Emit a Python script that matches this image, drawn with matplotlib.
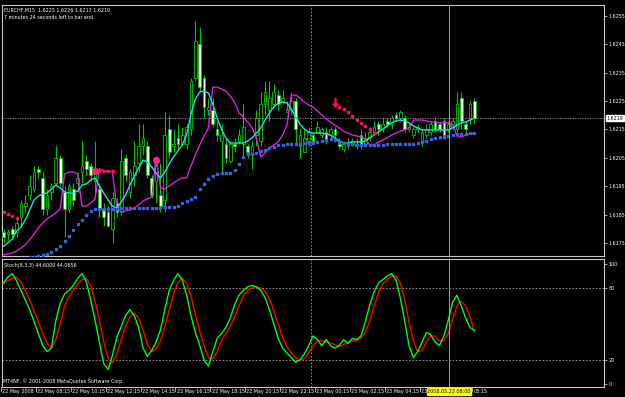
import os
import numpy as np
import matplotlib
matplotlib.use('Agg')
import matplotlib.pyplot as plt
from matplotlib.transforms import blended_transform_factory, Bbox
from matplotlib import font_manager
from matplotlib.font_manager import FontProperties

# ---------------- data ----------------
opens = [1.6179, 1.6178, 1.6180, 1.6179, 1.6184, 1.6188, 1.6192, 1.6194, 1.6201, 1.6198,
         1.6187, 1.6193, 1.6196, 1.6205, 1.6193, 1.6187, 1.6194, 1.6196, 1.6200, 1.6204,
         1.6202, 1.6197, 1.6194, 1.6187, 1.6186, 1.6180, 1.6189, 1.6186, 1.6205, 1.6193,
         1.6199, 1.6203, 1.6209, 1.6209, 1.6198, 1.6197, 1.6192, 1.6190, 1.6215, 1.6209,
         1.6212, 1.6210, 1.6210, 1.6215, 1.6233, 1.6245, 1.6233, 1.6222, 1.6222, 1.6215,
         1.6211, 1.6210, 1.6204, 1.6210, 1.6211, 1.6210, 1.6209, 1.6206, 1.6213, 1.6211,
         1.6224, 1.6222, 1.6224, 1.6227, 1.6225, 1.6221, 1.6222, 1.6225, 1.6209, 1.6207,
         1.6211, 1.6213, 1.6214, 1.6213, 1.6214, 1.6213, 1.6215, 1.6210, 1.6208, 1.6209,
         1.6210, 1.6209, 1.6213, 1.6210, 1.6212, 1.6214, 1.6217, 1.6215, 1.6218, 1.6217,
         1.6220, 1.6219, 1.6219, 1.6215, 1.6213, 1.6215, 1.6211, 1.6213, 1.6214, 1.6218,
         1.6217, 1.6218, 1.6215, 1.6216, 1.6215, 1.6226, 1.6217, 1.6219, 1.6225]
highs = [1.6180, 1.6180, 1.6181, 1.6184, 1.6190, 1.6192, 1.6199, 1.6202, 1.6202, 1.6200,
         1.6194, 1.6196, 1.6209, 1.6206, 1.6195, 1.6196, 1.6196, 1.6200, 1.6211, 1.6206,
         1.6203, 1.6211, 1.6196, 1.6189, 1.6188, 1.6193, 1.6191, 1.6208, 1.6206, 1.6201,
         1.6211, 1.6217, 1.6217, 1.6211, 1.6199, 1.6204, 1.6203, 1.6221, 1.6220, 1.6215,
         1.6217, 1.6216, 1.6217, 1.6233, 1.6253, 1.6251, 1.6234, 1.6226, 1.6226, 1.6218,
         1.6217, 1.6212, 1.6211, 1.6212, 1.6215, 1.6224, 1.6210, 1.6211, 1.6222, 1.6228,
         1.6232, 1.6232, 1.6231, 1.6229, 1.6229, 1.6225, 1.6228, 1.6226, 1.6215, 1.6215,
         1.6216, 1.6214, 1.6218, 1.6216, 1.6216, 1.6216, 1.6216, 1.6212, 1.6211, 1.6212,
         1.6212, 1.6212, 1.6215, 1.6214, 1.6216, 1.6218, 1.6218, 1.6219, 1.6219, 1.6220,
         1.6221, 1.6222, 1.6220, 1.6217, 1.6216, 1.6217, 1.6215, 1.6217, 1.6218, 1.6219,
         1.6218, 1.6219, 1.6218, 1.6219, 1.6228, 1.6228, 1.6218, 1.6225, 1.6226]
lows = [1.6175, 1.6176, 1.6177, 1.6177, 1.6181, 1.6186, 1.6190, 1.6193, 1.6198, 1.6185,
        1.6185, 1.6190, 1.6195, 1.6195, 1.6177, 1.6186, 1.6188, 1.6193, 1.6196, 1.6199,
        1.6197, 1.6193, 1.6184, 1.6181, 1.6181, 1.6175, 1.6184, 1.6185, 1.6197, 1.6191,
        1.6195, 1.6200, 1.6206, 1.6198, 1.6191, 1.6189, 1.6186, 1.6186, 1.6205, 1.6207,
        1.6208, 1.6209, 1.6208, 1.6213, 1.6232, 1.6228, 1.6219, 1.6220, 1.6216, 1.6211,
        1.6200, 1.6203, 1.6203, 1.6207, 1.6210, 1.6205, 1.6205, 1.6201, 1.6209, 1.6209,
        1.6220, 1.6218, 1.6223, 1.6222, 1.6224, 1.6221, 1.6220, 1.6210, 1.6205, 1.6207,
        1.6209, 1.6210, 1.6214, 1.6212, 1.6210, 1.6212, 1.6211, 1.6208, 1.6207, 1.6208,
        1.6209, 1.6208, 1.6208, 1.6209, 1.6211, 1.6213, 1.6213, 1.6214, 1.6216, 1.6215,
        1.6218, 1.6218, 1.6214, 1.6214, 1.6212, 1.6214, 1.6209, 1.6212, 1.6213, 1.6214,
        1.6214, 1.6212, 1.6214, 1.6215, 1.6214, 1.6215, 1.6213, 1.6217, 1.6217]
closes = [1.6177, 1.6179, 1.6178, 1.6182, 1.6189, 1.6189, 1.6195, 1.6200, 1.6200, 1.6187,
          1.6192, 1.6195, 1.6205, 1.6196, 1.6187, 1.6195, 1.6190, 1.6198, 1.6202, 1.6201,
          1.6199, 1.6200, 1.6187, 1.6184, 1.6181, 1.6191, 1.6186, 1.6204, 1.6199, 1.6200,
          1.6202, 1.6209, 1.6212, 1.6199, 1.6192, 1.6202, 1.6188, 1.6213, 1.6207, 1.6210,
          1.6210, 1.6213, 1.6216, 1.6232, 1.6246, 1.6230, 1.6223, 1.6223, 1.6217, 1.6213,
          1.6213, 1.6205, 1.6210, 1.6209, 1.6213, 1.6216, 1.6207, 1.6209, 1.6219, 1.6224,
          1.6228, 1.6226, 1.6228, 1.6224, 1.6226, 1.6222, 1.6225, 1.6215, 1.6213, 1.6212,
          1.6214, 1.6211, 1.6216, 1.6215, 1.6211, 1.6215, 1.6213, 1.6209, 1.6210, 1.6210,
          1.6211, 1.6210, 1.6209, 1.6212, 1.6214, 1.6216, 1.6215, 1.6217, 1.6217, 1.6219,
          1.6219, 1.6221, 1.6215, 1.6216, 1.6215, 1.6216, 1.6214, 1.6215, 1.6217, 1.6215,
          1.6215, 1.6213, 1.6217, 1.6218, 1.6224, 1.6218, 1.6215, 1.6224, 1.6219]

ma_fast = [1.61739, 1.61750, 1.61764, 1.61792, 1.61806, 1.61831, 1.61866, 1.61901, 1.61915, 1.61923,
           1.61926, 1.61940, 1.61954, 1.61944, 1.61930, 1.61926, 1.61926, 1.61933, 1.61954, 1.61958,
           1.61972, 1.61979, 1.61951, 1.61926, 1.61901, 1.61880, 1.61873, 1.61894, 1.61919, 1.61954,
           1.61986, 1.62014, 1.62042, 1.62035, 1.62018, 1.61996, 1.61979, 1.62000, 1.62028, 1.62053,
           1.62074, 1.62095, 1.62130, 1.62204, 1.62257, 1.62282, 1.62285, 1.62278, 1.62239, 1.62190,
           1.62151, 1.62120, 1.62102, 1.62102, 1.62102, 1.62102, 1.62109, 1.62120, 1.62137, 1.62155,
           1.62183, 1.62208, 1.62229, 1.62243, 1.62246, 1.62243, 1.62222, 1.62194, 1.62169, 1.62151,
           1.62141, 1.62137, 1.62137, 1.62137, 1.62134, 1.62130, 1.62120, 1.62109, 1.62102, 1.62102,
           1.62106, 1.62106, 1.62106, 1.62109, 1.62120, 1.62130, 1.62141, 1.62151, 1.62162, 1.62173,
           1.62180, 1.62183, 1.62180, 1.62173, 1.62162, 1.62155, 1.62148, 1.62148, 1.62148, 1.62148,
           1.62148, 1.62148, 1.62148, 1.62155, 1.62165, 1.62173, 1.62176, 1.62183, 1.62190]
ma_step = [1.61708, 1.61711, 1.61715, 1.61722, 1.61732, 1.61743, 1.61761, 1.61782, 1.61803, 1.61820,
           1.61835, 1.61845, 1.61856, 1.61870, 1.61993, 1.62000, 1.62000, 1.61993, 1.61880, 1.61880,
           1.61891, 1.61905, 1.62011, 1.62004, 1.62004, 1.62000, 1.61873, 1.61859, 1.61863, 1.61866,
           1.61873, 1.61884, 1.61898, 1.61905, 1.61912, 1.62053, 1.61944, 1.61940, 1.61951, 1.61961,
           1.61972, 1.61979, 1.61979, 1.62021, 1.62060, 1.62095, 1.62127, 1.62155, 1.62299, 1.62299,
           1.62292, 1.62285, 1.62268, 1.62246, 1.62208, 1.62194, 1.62176, 1.62155, 1.62120, 1.62053,
           1.62067, 1.62085, 1.62095, 1.62106, 1.62130, 1.62165, 1.62271, 1.62271, 1.62261, 1.62246,
           1.62236, 1.62229, 1.62215, 1.62201, 1.62187, 1.62176, 1.62165, 1.62155, 1.62144, 1.62137,
           1.62130, 1.62127, 1.62123, 1.62116, 1.62095, 1.62095, 1.62106, 1.62113, 1.62120, 1.62130,
           1.62137, 1.62144, 1.62148, 1.62155, 1.62183, 1.62183, 1.62183, 1.62180, 1.62176, 1.62176,
           1.62173, 1.62173, 1.62173, 1.62169, 1.62127, 1.62123, 1.62130, 1.62134, 1.62137]
ma_slow = [1.61683, 1.61687, 1.61690, 1.61694, 1.61697, 1.61697, 1.61701, 1.61701, 1.61704, 1.61708,
           1.61711, 1.61718, 1.61729, 1.61739, 1.61757, 1.61775, 1.61796, 1.61817, 1.61831, 1.61849,
           1.61863, 1.61870, 1.61870, 1.61870, 1.61870, 1.61870, 1.61870, 1.61873, 1.61873, 1.61873,
           1.61873, 1.61873, 1.61873, 1.61873, 1.61873, 1.61873, 1.61873, 1.61877, 1.61877, 1.61877,
           1.61880, 1.61891, 1.61898, 1.61905, 1.61912, 1.61940, 1.61958, 1.61975, 1.61986, 1.61993,
           1.61996, 1.61996, 1.61996, 1.62007, 1.62028, 1.62053, 1.62063, 1.62063, 1.62067, 1.62074,
           1.62077, 1.62085, 1.62088, 1.62095, 1.62095, 1.62099, 1.62099, 1.62099, 1.62099, 1.62102,
           1.62102, 1.62102, 1.62106, 1.62109, 1.62113, 1.62116, 1.62113, 1.62106, 1.62102, 1.62099,
           1.62099, 1.62095, 1.62095, 1.62095, 1.62095, 1.62095, 1.62095, 1.62095, 1.62099, 1.62099,
           1.62099, 1.62099, 1.62099, 1.62099, 1.62099, 1.62102, 1.62106, 1.62109, 1.62116, 1.62120,
           1.62123, 1.62123, 1.62127, 1.62130, 1.62134, 1.62134, 1.62134, 1.62137, 1.62137]

stop_bars_a = [0, 1, 2, 3]
stop_vals_a = [1.61859, 1.61852, 1.61845, 1.61838]
stop_bars_b = [22, 23, 24, 25]
stop_vals_b = [1.62004, 1.62004, 1.62004, 1.62004]
stop_bars_c = [77, 78, 79, 80, 81, 82, 83, 84, 85]
stop_vals_c = [1.62229, 1.62222, 1.62212, 1.62197, 1.62183, 1.62173, 1.62162, 1.62151, 1.62137]
star_bars = [21, 35]
star_vals = [1.62004, 1.62042]
arrow_bars = [76]
arrow_vals = [1.62245]

stoch_main = [84, 89, 92, 86, 78, 70, 62, 52, 42, 32,
              27, 30, 53, 67, 75, 78, 82, 88, 92, 85,
              70, 53, 35, 17, 12, 24, 39, 48, 57, 62,
              57, 47, 30, 23, 28, 35, 45, 62, 78, 86,
              92, 87, 74, 57, 43, 32, 20, 15, 27, 38,
              42, 47, 55, 66, 74, 78, 81, 82, 81, 78,
              72, 62, 50, 38, 30, 26, 22, 18, 20, 25,
              32, 40, 37, 32, 37, 32, 30, 32, 37, 34,
              38, 37, 40, 52, 66, 77, 84, 87, 90, 92,
              87, 72, 53, 32, 22, 27, 35, 43, 41, 35,
              32, 40, 53, 68, 74, 65, 55, 47, 44.6009]
stoch_signal = [84, 86, 88, 89, 85, 78, 70, 61, 52, 42,
                34, 30, 37, 50, 65, 73, 78, 83, 87, 88,
                82, 69, 53, 35, 21, 18, 25, 37, 48, 56,
                59, 55, 45, 33, 27, 29, 36, 47, 62, 75,
                85, 88, 84, 73, 58, 44, 32, 22, 21, 27,
                36, 42, 48, 56, 65, 73, 78, 80, 81, 80,
                77, 71, 61, 50, 39, 31, 26, 22, 20, 21,
                26, 32, 36, 36, 35, 34, 33, 31, 33, 34,
                36, 36, 38, 43, 53, 65, 76, 83, 87, 90,
                90, 84, 71, 52, 36, 27, 28, 35, 40, 40,
                36, 36, 42, 54, 65, 69, 65, 56, 44.0656]

price_ticks = [1.6175, 1.6185, 1.6195, 1.6205, 1.6215, 1.6225, 1.6235, 1.6245, 1.6255]
stoch_ticks = [0, 20, 80, 100]
time_tick_bars = [0, 8, 16, 24, 32, 40, 48, 56, 64, 72, 80, 88, 96, 104]
time_tick_labels = ['22 May 2008', '22 May 08:15', '22 May 10:15', '22 May 12:15', '22 May 14:15',
                    '22 May 16:15', '22 May 18:15', '22 May 20:15', '22 May 22:15', '23 May 00:15',
                    '23 May 02:15', '23 May 04:15', '23 May 06:15', '08:15']
day_separator_bar = 70.5
cross_bar = 102.2
cross_price = 1.6219
cross_time_label = '2008.05.23 08:00'
title_line1 = 'EURCHF,M15  1.6225 1.6226 1.6217 1.6219'
title_line2 = '7 minutes 24 seconds left to bar end'
stoch_title = 'Stoch(8,3,3) 44.6009 44.0656'
copyright_text = 'MT4NF, \u00a9 2001-2008 MetaQuotes Software Corp.'

# ---------------- font: prefer a narrow face, size calibrated on a label width ----------------
def find_narrow():
    fl = font_manager.fontManager.ttflist
    for f in fl:
        base = os.path.basename(f.fname).lower()
        if ('condensed' in base or 'narrow' in base) and 'bold' not in base and 'italic' not in base \
                and 'oblique' not in base and 'light' not in base and 'semi' not in base:
            return f.fname
    return None

narrow = find_narrow()
if narrow:
    BASE_FP = FontProperties(fname=narrow)
else:
    BASE_FP = FontProperties(family=['Liberation Sans', 'DejaVu Sans'])

W, H = 625, 397
fig = plt.figure(figsize=(W / 100, H / 100), dpi=100, facecolor='black')
renderer = fig.canvas.get_renderer()
_probe = fig.text(0, 0, '22 May 08:15', fontproperties=BASE_FP, fontsize=10)
_w10 = _probe.get_window_extent(renderer).width
_probe.remove()
FS = 10 * 33.0 / _w10
FP = BASE_FP.copy()
FP.set_size(FS)

def px_axes(left, top, right, bottom):
    return fig.add_axes([left / W, 1 - bottom / H, (right - left) / W, (bottom - top) / H])

ax = px_axes(2, 5, 604, 256)
ax2 = px_axes(2, 259, 604, 387)

PXB = 4.36
X0 = 3.5
xlim = ((2 - X0) / PXB, (604 - X0) / PXB)
FRAME = '#c8c8c8'
TXT = '#ffffff'
for a in (ax, ax2):
    a.set_facecolor('black')
    a.set_xlim(*xlim)
    for s in a.spines.values():
        s.set_color(FRAME)
        s.set_linewidth(0.8)
    a.yaxis.tick_right()
    a.tick_params(axis='y', colors=FRAME, labelcolor=TXT, length=2, width=0.6, pad=1.5)
    a.set_xticks([])

ax.set_ylim(1.617042, 1.625880)
ax2.set_ylim(-2.5, 104.17)

ax.set_yticks(price_ticks)
ax.set_yticklabels([f'{p:.4f}' for p in price_ticks], fontproperties=FP)
ax2.set_yticks(stoch_ticks)
ax2.set_yticklabels([str(v) for v in stoch_ticks], fontproperties=FP)

# candles
n = len(closes)
x = np.arange(n)
o = np.array(opens); h = np.array(highs); l = np.array(lows); c = np.array(closes)
GREEN = '#00c800'
ax.vlines(x, np.minimum(l, np.minimum(o, c)), np.maximum(h, np.maximum(o, c)), color=GREEN, lw=0.8, zorder=2)
bull = c >= o
bottoms = np.minimum(o, c)
heights = np.maximum(np.abs(c - o), 0.000012)
ax.bar(x[bull], heights[bull], bottom=bottoms[bull], width=0.62, facecolor='black',
       edgecolor=GREEN, linewidth=0.6, zorder=3)
ax.bar(x[~bull], heights[~bull], bottom=bottoms[~bull], width=0.62, facecolor='#f4fff0',
       edgecolor=GREEN, linewidth=0.6, zorder=3)

# indicator lines
ax.plot(x, ma_step, color='#e020e0', lw=1.0, zorder=4)
ax.plot(x, ma_fast, color='#20e0e0', lw=1.0, zorder=5)
ax.plot(x, ma_slow, color='#3a62e0', lw=0, marker='s', ms=1.8, zorder=5)
for bb, vv in ((stop_bars_a, stop_vals_a), (stop_bars_b, stop_vals_b), (stop_bars_c, stop_vals_c)):
    ax.plot(bb, vv, color='#ff1050', lw=0, marker='s', ms=1.8, zorder=6)
ax.plot(star_bars, star_vals, color='#ff2080', lw=0, marker=(8, 2, 0), ms=5, mew=1.2, zorder=6)
ax.plot(arrow_bars, arrow_vals, color='#ff1050', lw=0, marker=r'$\downarrow$', ms=6, zorder=6)

# separators / crosshair
for a in (ax, ax2):
    a.axvline(day_separator_bar, color='#a0a0a0', lw=0.6, ls=(0, (2, 2)), zorder=1)
    a.axvline(cross_bar, color='#a0a090', lw=0.7, zorder=7)
ax.axhline(cross_price, color='#9a9a9a', lw=0.6, ls=(0, (1.5, 1.5)), zorder=7)
ax.text(1.004, cross_price, f'{cross_price:.4f}', transform=blended_transform_factory(ax.transAxes, ax.transData),
        ha='left', va='center', fontproperties=FP, color='black', zorder=10, clip_on=False,
        bbox=dict(boxstyle='square,pad=0.15', fc='white', ec='white'))

# stochastic
ax2.axhline(80, color='#a0a0a0', lw=0.6, ls=(0, (2, 2)))
ax2.axhline(20, color='#a0a0a0', lw=0.6, ls=(0, (2, 2)))
ax2.plot(x, stoch_main, color='#00ff00', lw=1.0, zorder=4)
ax2.plot(x, stoch_signal, color='#ff0000', lw=1.0, zorder=3)

# texts
ax.text(0.004, 0.99, title_line1, transform=ax.transAxes, ha='left', va='top', fontproperties=FP, color=TXT)
ax.text(0.004, 0.962, title_line2, transform=ax.transAxes, ha='left', va='top', fontproperties=FP, color=TXT)
ax2.text(0.004, 0.965, stoch_title, transform=ax2.transAxes, ha='left', va='top', fontproperties=FP, color=TXT)
ax2.text(0.002, 0.025, copyright_text, transform=ax2.transAxes, ha='left', va='bottom', fontproperties=FP, color=TXT)

# time axis
tb = blended_transform_factory(ax2.transData, ax2.transAxes)
box_left_px = X0 + cross_bar * PXB - 21
box_right_px = X0 + cross_bar * PXB + 21
for b, lab in zip(time_tick_bars, time_tick_labels):
    px = X0 + b * PXB - 2.5
    if box_left_px < px < box_right_px:
        px = box_right_px + 2
    xb = (px - X0) / PXB
    t = ax2.text(xb + 0.3, -0.015, lab, transform=tb, ha='left', va='top', fontproperties=FP,
                 color=TXT, clip_on=False)
    if px < box_left_px < px + 34:
        # the date box is drawn over this label: only its start shows
        t.set_clip_box(Bbox([[0, 0], [box_left_px, H]]))
        t.set_clip_on(True)
    ax2.plot([xb, xb], [0, -0.03], transform=tb, color=FRAME, lw=0.6, clip_on=False)
ax2.text(cross_bar, -0.015, cross_time_label, transform=tb, ha='center', va='top', fontproperties=FP,
         color='black', clip_on=False, zorder=10,
         bbox=dict(boxstyle='square,pad=0.12', fc='#ffff00', ec='#ffff00'))

fig.savefig('out.png', dpi=100, facecolor='black')
